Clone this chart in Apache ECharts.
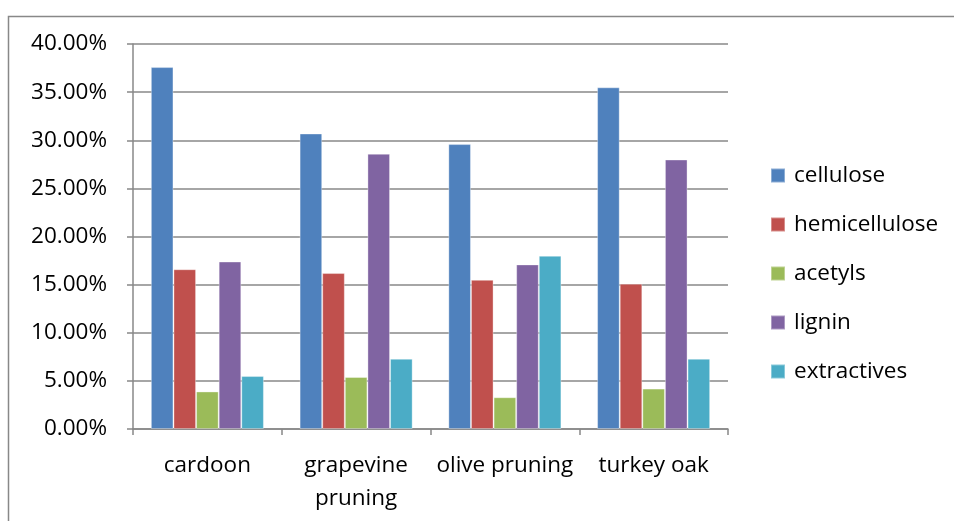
<!DOCTYPE html>
<html>
<head>
<meta charset="utf-8">
<script src="https://cdn.jsdelivr.net/npm/echarts@6/dist/echarts.min.js"></script>
<style>
html,body{margin:0;padding:0;background:#fff;}
#chart{width:954px;height:521px;}
</style>
</head>
<body>
<div id="chart"></div>
<script>
const categories = ['cardoon', 'grapevine\npruning', 'olive pruning', 'turkey oak'];
const cellulose = [37.6, 30.7, 29.6, 35.5];
const hemicellulose = [16.6, 16.2, 15.5, 15.1];
const acetyls = [3.9, 5.4, 3.3, 4.2];
const lignin = [17.4, 28.6, 17.1, 28.0];
const extractives = [5.5, 7.3, 18.0, 7.3];
const yTicks = [0, 5, 10, 15, 20, 25, 30, 35, 40];

const seriesDefs = [
  ['cellulose', cellulose, '#4F81BD'],
  ['hemicellulose', hemicellulose, '#C0504D'],
  ['acetyls', acetyls, '#9BBB59'],
  ['lignin', lignin, '#8064A2'],
  ['extractives', extractives, '#4BACC6']
];

const font = 'Open Sans';
const fs = 22.5;
const chart = echarts.init(document.getElementById('chart'));
chart.setOption({
  animation: false,
  textStyle: {fontFamily: font},
  graphic: [{
    type: 'rect', left: 6, top: 14, silent: true,
    shape: {width: 1100, height: 700},
    style: {fill: 'none', stroke: '#888888', lineWidth: 1.5}
  }],
  grid: {left: 133, right: 226, top: 44, bottom: 92, containLabel: false},
  legend: {
    orient: 'vertical', left: 770, top: 164, padding: 0,
    itemWidth: 14, itemHeight: 14, itemGap: 26,
    icon: 'rect',
    textStyle: {fontFamily: font, fontSize: fs, color: '#000', lineHeight: 22, padding: [0, 0, 0, 4]},
    data: seriesDefs.map(s => s[0])
  },
  xAxis: {
    type: 'category', data: categories,
    axisLine: {lineStyle: {color: '#888888', width: 1.5}},
    axisTick: {show: true, length: 6, lineStyle: {color: '#888888', width: 1.5}},
    axisLabel: {fontFamily: font, fontSize: fs, color: '#000', margin: 20, lineHeight: 33, interval: 0}
  },
  yAxis: {
    type: 'value', min: yTicks[0], max: yTicks[yTicks.length - 1], interval: 5,
    axisLine: {show: true, lineStyle: {color: '#888888', width: 1.5}},
    axisTick: {show: true, length: 6, lineStyle: {color: '#888888', width: 1.5}},
    splitLine: {lineStyle: {color: '#888888', width: 1.5}},
    axisLabel: {fontFamily: font, fontSize: fs, color: '#000', margin: 26,
      formatter: v => v.toFixed(2) + '%'}
  },
  series: seriesDefs.map(s => ({
    name: s[0], type: 'bar', data: s[1],
    barGap: '0%', barCategoryGap: '24%',
    itemStyle: {color: s[2], borderColor: 'rgba(255,255,255,0.35)', borderWidth: 1}
  }))
});
</script>
</body>
</html>
